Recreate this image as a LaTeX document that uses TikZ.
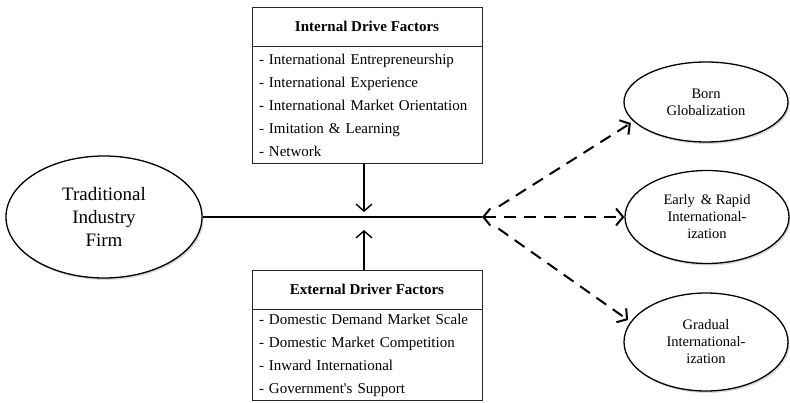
\documentclass[tikz,border=0pt]{standalone}
\usepackage{fontspec}
\setmainfont{Liberation Serif}
\newfontfamily\plainrm{Liberation Serif}
\usetikzlibrary{arrows.meta, positioning, shapes.geometric, shadows}

\begin{document}
\begin{tikzpicture}[
  x=1pt, y=-1pt,
  hd/.style={rectangle, draw=black!85, line width=0.8pt,
             minimum width=230pt, minimum height=39pt, inner sep=0pt,
             font=\fontsize{15}{18}\selectfont\bfseries},
  lst/.style={rectangle, draw=black!85, line width=0.8pt,
              text width=216pt, inner xsep=7pt, inner ysep=2pt,
              font=\fontsize{15}{23}\selectfont, align=left},
  oval/.style={ellipse, draw, line width=1.3pt, fill=white,
               align=center, inner sep=0pt,
               drop shadow={shadow xshift=1.5pt, shadow yshift=-2pt, opacity=0.3}},
  res/.style={oval, minimum width=164pt, font=\fontsize{14.5}{17}\selectfont},
  arr/.style={-{Straight Barb[length=7pt,width=16pt]}, line width=1.4pt},
  dsh/.style={-{Straight Barb[length=7pt,width=17pt]}, line width=2pt,
              dash pattern=on 12pt off 8pt}
]
\useasboundingbox (0,0) rectangle (790,403);

% driver boxes
\node[hd] (ih) at (367,26.5) {Internal Drive Factors};
\node[lst, below=0pt of ih, minimum height=117pt] (il)
  {- International Entrepreneurship\\- International Experience\\
   - International Market Orientation\\- Imitation \& Learning\\- Network};
\node[hd] (eh) at (367,289.5) {External Driver Factors};
\node[lst, below=0pt of eh, minimum height=91pt] (el)
  {- Domestic Demand Market Scale\\- Domestic Market Competition\\
   - Inward International\\- Government{\plainrm'}s Support};

% firm and outcomes
\node[oval, minimum width=196pt, minimum height=122pt,
      font=\fontsize{19}{23}\selectfont] (firm) at (104,217)
  {Traditional\\Industry\\Firm};
\node[res, minimum height=80pt] (born) at (706,102) {Born\\Globalization};
\node[res, minimum height=93pt] (early) at (707,217)
  {Early \,\& Rapid\\International-\\ization};
\node[res, minimum height=98pt] (grad) at (706,342)
  {Gradual\\International-\\ization};

\coordinate (jn) at (482,217);

\draw[line width=2pt] (firm) -- (jn);
\draw[arr, shorten >=5pt] ([xshift=-3pt]il.south) -- ([xshift=-3pt]il.south |- jn);
\draw[arr, shorten >=13pt] ([xshift=-3pt]eh.north) -- ([xshift=-3pt]eh.north |- jn);

\draw[dsh, {Straight Barb[length=7pt,width=17pt]}-{Straight Barb[length=7pt,width=17pt]}]
  (jn) -- (early);
\draw[dsh, shorten <=20pt, shorten >=3pt] (jn) -- (born.195);
\draw[dsh, shorten <=20pt, shorten >=3pt] (jn) -- (grad.165);
\end{tikzpicture}
\end{document}
